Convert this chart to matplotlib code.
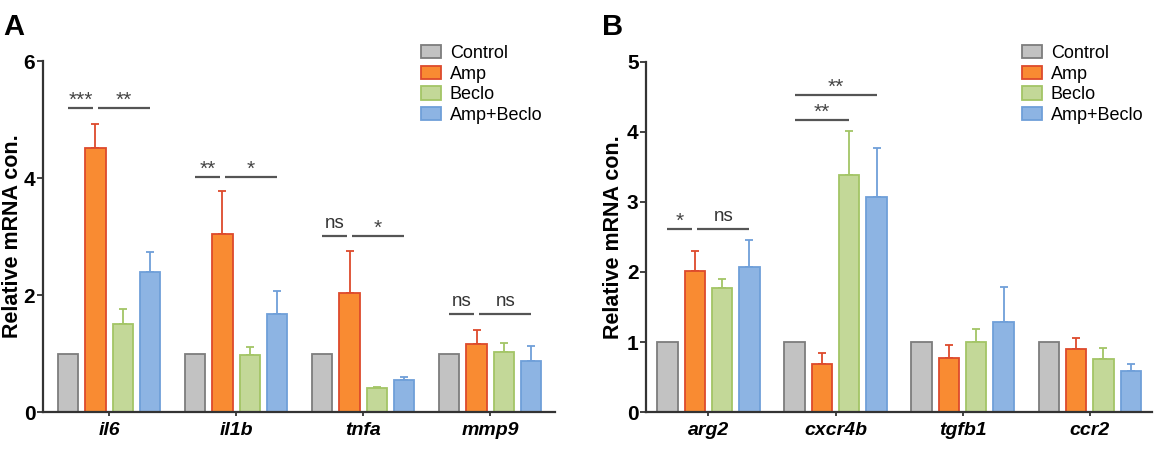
import numpy as np
import matplotlib
matplotlib.use("Agg")
import matplotlib.pyplot as plt

plt.rcParams['font.family'] = ['Liberation Sans', 'DejaVu Sans']

groups = ['Control', 'Amp', 'Beclo', 'Amp+Beclo']

# panel A
genes_a = ['il6', 'il1b', 'tnfa', 'mmp9']
control_a = [1.0, 1.0, 1.0, 1.0]
amp_a = [4.51, 3.04, 2.04, 1.17]
beclo_a = [1.51, 0.98, 0.41, 1.02]
combo_a = [2.40, 1.67, 0.54, 0.88]
amp_a_err = [0.41, 0.73, 0.71, 0.24]
beclo_a_err = [0.25, 0.13, 0.02, 0.16]
combo_a_err = [0.33, 0.40, 0.06, 0.25]
# (gene index, from group, to group, line height, label)
sig_a = [(0, 0, 1, 5.19, '***'), (0, 1, 3, 5.19, '**'),
         (1, 0, 1, 4.02, '**'), (1, 1, 3, 4.02, '*'),
         (2, 0, 1, 3.01, 'ns'), (2, 1, 3, 3.01, '*'),
         (3, 0, 1, 1.67, 'ns'), (3, 1, 3, 1.67, 'ns')]

# panel B
genes_b = ['arg2', 'cxcr4b', 'tgfb1', 'ccr2']
control_b = [1.0, 1.0, 1.0, 1.0]
amp_b = [2.02, 0.68, 0.77, 0.90]
beclo_b = [1.77, 3.39, 1.00, 0.76]
combo_b = [2.07, 3.07, 1.29, 0.59]
amp_b_err = [0.28, 0.16, 0.19, 0.15]
beclo_b_err = [0.13, 0.62, 0.19, 0.15]
combo_b_err = [0.38, 0.70, 0.49, 0.10]
sig_b = [(0, 0, 1, 2.61, '*'), (0, 1, 3, 2.61, 'ns'),
         (1, 0, 2, 4.17, '**'), (1, 0, 3, 4.53, '**')]

fills = ['#c2c2c2', '#f98b32', '#c3d898', '#8db4e3']
edges = ['#7d7d7d', '#dd4a2c', '#a3c566', '#6f9fd9']

width = 0.16
offsets = np.array([-1.5, -0.5, 0.5, 1.5]) * 0.215

fig = plt.figure(figsize=(11.56, 4.5), dpi=100)
ax_a = fig.add_axes([0.0372, 0.0844, 0.443, 0.78])
ax_b = fig.add_axes([0.559, 0.0844, 0.4375, 0.778])


def draw_panel(ax, genes, series, errs, sig, ymax, xlim):
    x = np.arange(len(genes))
    for i, vals in enumerate(series):
        ax.bar(x + offsets[i], vals, width, color=fills[i], edgecolor=edges[i],
               linewidth=1.3, label=groups[i], zorder=2)
        if errs[i] is not None:
            lo = np.zeros(len(vals))
            ax.errorbar(x + offsets[i], vals, yerr=[lo, errs[i]], fmt='none',
                        ecolor=edges[i], elinewidth=1.3, capsize=3, capthick=1.3,
                        zorder=1)
    for g, a, b, y, lab in sig:
        x0 = g + offsets[a]
        x1 = g + offsets[b]
        if a == 1:
            x0 += 0.02
        if b == 1:
            x1 -= 0.02
        ax.plot([x0, x1], [y, y], color='#555555', lw=1.6, solid_capstyle='butt')
        if lab == 'ns':
            ax.text((x0 + x1) / 2, y + ymax * 0.012, lab, ha='center', va='bottom',
                    fontsize=13.5, color='#333333')
        else:
            ax.text((x0 + x1) / 2, y - ymax * 0.005, lab, ha='center', va='bottom',
                    fontsize=15, color='#444444')
    ax.set_xlim(*xlim)
    ax.set_ylim(0, ymax)
    ax.set_yticks(range(0, ymax + 1, 2 if ymax == 6 else 1))
    ax.set_xticks(x)
    ax.set_xticklabels(genes, fontsize=14, fontweight='bold', fontstyle='italic')
    for lab in ax.get_yticklabels():
        lab.set_fontweight('bold')
        lab.set_fontsize(15)
    ax.tick_params(axis='y', length=4, width=1.3, pad=1.5, color='#333333')
    ax.tick_params(axis='x', length=3, width=1.3, pad=4, color='#333333')
    for s in ['top', 'right']:
        ax.spines[s].set_visible(False)
    for s in ['left', 'bottom']:
        ax.spines[s].set_linewidth(1.6)
        ax.spines[s].set_color('#333333')
    ax.set_ylabel('Relative mRNA con.', fontsize=15.5, fontweight='bold', labelpad=2)
    ax.legend(loc='upper left', bbox_to_anchor=(0.0, 1.0), frameon=False,
              fontsize=13, handlelength=1.1, handleheight=0.75, labelspacing=0.2,
              handletextpad=0.5, borderpad=0, borderaxespad=0)
    return ax


draw_panel(ax_a, genes_a, [control_a, amp_a, beclo_a, combo_a],
           [None, amp_a_err, beclo_a_err, combo_a_err], sig_a, 6, (-0.52, 3.51))
draw_panel(ax_b, genes_b, [control_b, amp_b, beclo_b, combo_b],
           [None, amp_b_err, beclo_b_err, combo_b_err], sig_b, 5, (-0.49, 3.49))

# the ylabel of panel A sits right at the left edge
ax_a.yaxis.set_label_coords(-0.04, 0.5)

# move legends into place (figure fractions)
ax_a.get_legend().set_bbox_to_anchor((0.364, 0.9), transform=fig.transFigure)
ax_b.get_legend().set_bbox_to_anchor((0.884, 0.9), transform=fig.transFigure)

fig.text(0.003, 0.922, 'A', fontsize=21, fontweight='bold')
fig.text(0.521, 0.922, 'B', fontsize=21, fontweight='bold')

fig.savefig('out.png', dpi=100)
